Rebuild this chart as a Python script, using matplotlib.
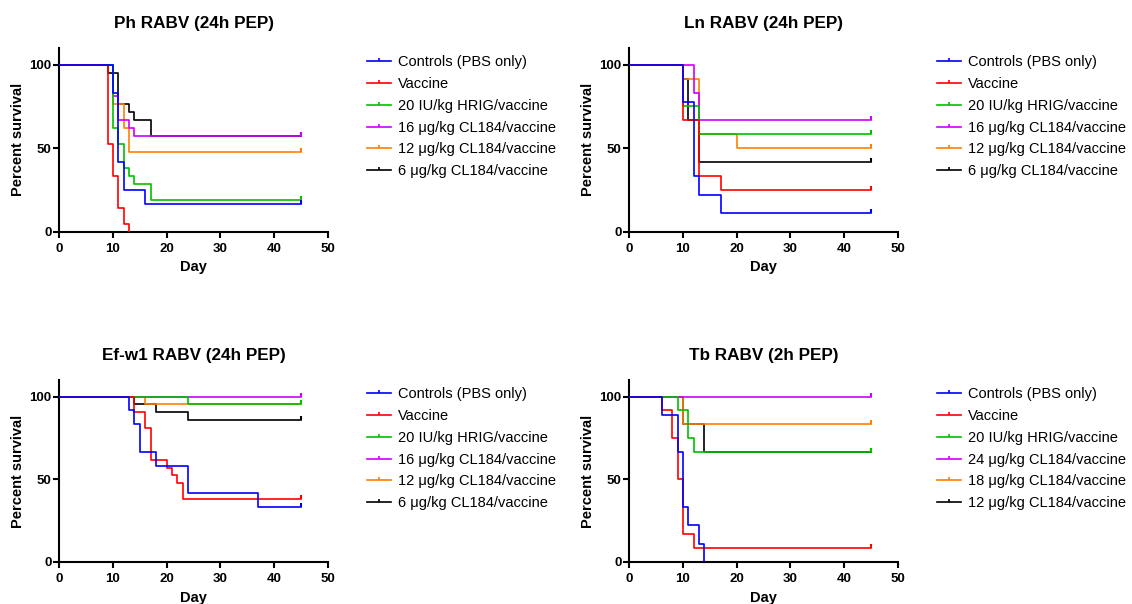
import numpy as np
import matplotlib.pyplot as plt
from matplotlib.lines import Line2D

plt.rcParams['font.family'] = ['Liberation Sans', 'DejaVu Sans']

# colores de cada grupo (mismo orden que la leyenda)
colors = ['#0000FF', '#FF0000', '#00C000', '#CC00FF', '#FF8000', '#000000']

# --- Ph RABV (24h PEP) ---
ph_labels = ['Controls (PBS only)', 'Vaccine', '20 IU/kg HRIG/vaccine',
             '16 \u03bcg/kg CL184/vaccine', '12 \u03bcg/kg CL184/vaccine',
             '6 \u03bcg/kg CL184/vaccine']
ph_days = [[0, 10, 11, 12, 16],
           [0, 9, 10, 11, 12, 13],
           [0, 10, 11, 12, 13, 14, 17],
           [0, 10, 11, 13, 14],
           [0, 10, 12, 13],
           [0, 9, 11, 13, 14, 17]]
ph_surv = [[100, 83.3, 41.7, 25.0, 16.7],
           [100, 52.4, 33.3, 14.3, 4.8, 0],
           [100, 61.9, 52.4, 38.1, 33.3, 28.6, 19.0],
           [100, 81.0, 66.7, 61.9, 57.1],
           [100, 76.2, 61.9, 47.6],
           [100, 95.2, 76.2, 71.4, 66.7, 57.1]]

# --- Ln RABV (24h PEP) ---
ln_labels = ph_labels
ln_days = [[0, 10, 12, 13, 17],
           [0, 10, 13, 17],
           [0, 10, 13],
           [0, 12, 13],
           [0, 10, 13, 20],
           [0, 10, 11, 13]]
ln_surv = [[100, 77.8, 33.3, 22.2, 11.1],
           [100, 66.7, 33.3, 25.0],
           [100, 75.0, 58.3],
           [100, 83.3, 66.7],
           [100, 91.7, 58.3, 50.0],
           [100, 91.7, 66.7, 41.7]]

# --- Ef-w1 RABV (24h PEP) ---
ef_labels = ph_labels
ef_days = [[0, 13, 14, 15, 18, 24, 37],
           [0, 14, 16, 17, 20, 21, 22, 23],
           [0, 24],
           [0],
           [0, 16],
           [0, 14, 18, 24]]
ef_surv = [[100, 91.7, 83.3, 66.7, 58.3, 41.7, 33.3],
           [100, 90.5, 81.0, 61.9, 57.1, 52.4, 47.6, 38.1],
           [100, 95.2],
           [100],
           [100, 95.2],
           [100, 95.2, 90.5, 85.7]]

# --- Tb RABV (2h PEP) ---
tb_labels = ['Controls (PBS only)', 'Vaccine', '20 IU/kg HRIG/vaccine',
             '24 \u03bcg/kg CL184/vaccine', '18 \u03bcg/kg CL184/vaccine',
             '12 \u03bcg/kg CL184/vaccine']
tb_days = [[0, 6, 9, 10, 11, 13, 14],
           [0, 6, 8, 9, 10, 12],
           [0, 9, 11, 12],
           [0],
           [0, 10],
           [0, 10, 14]]
tb_surv = [[100, 88.9, 66.7, 33.3, 22.2, 11.1, 0],
           [100, 91.7, 75.0, 50.0, 16.7, 8.3],
           [100, 91.7, 75.0, 66.7],
           [100],
           [100, 83.3],
           [100, 83.3, 66.7]]

end_day = 45

fig = plt.figure(figsize=(11.32, 6.04), dpi=100)

# posiciones en pixeles: (izq, der, abajo, arriba, y de la leyenda)
panels = [
    ('Ph RABV (24h PEP)', ph_labels, ph_days, ph_surv, (59.3, 327.7, 231.7, 48, 55)),
    ('Ln RABV (24h PEP)', ln_labels, ln_days, ln_surv, (629.3, 897.7, 231.7, 48, 55)),
    ('Ef-w1 RABV (24h PEP)', ef_labels, ef_days, ef_surv, (59.3, 327.7, 562, 380, 387)),
    ('Tb RABV (2h PEP)', tb_labels, tb_days, tb_surv, (629.3, 897.7, 562, 380, 387)),
]

W, H = 1132, 604
for title, labels, days, surv, (l, r, b, t, ly) in panels:
    ax = fig.add_axes([l / W, 1 - b / H, (r - l) / W, (b - t) / H])
    for i, (d, s) in enumerate(zip(days, surv)):
        d = list(d)
        s = list(s)
        z = 10 - i
        if s[-1] > 0:
            d.append(end_day)
            s.append(s[-1])
            ax.step(d, s, where='post', color=colors[i], lw=1.2, zorder=z)
            ax.plot([end_day], [s[-1]], marker=2, color=colors[i], ms=3, mew=1.5, zorder=z)
        else:
            ax.step(d, s, where='post', color=colors[i], lw=1.2, zorder=z)
    ax.set_xlim(0, 50)
    ax.set_ylim(0, 110)
    ax.set_xticks([0, 10, 20, 30, 40, 50])
    ax.set_yticks([0, 50, 100])
    for sp in ['top', 'right']:
        ax.spines[sp].set_visible(False)
    for sp in ['left', 'bottom']:
        ax.spines[sp].set_linewidth(1.5)
    ax.tick_params(width=1.5, length=4.5, labelsize=9.5)
    ax.tick_params(axis='x', pad=3.5)
    ax.tick_params(axis='y', pad=1)
    for lab in ax.get_xticklabels() + ax.get_yticklabels():
        lab.set_fontweight('bold')
    ax.set_xlabel('Day', fontsize=10.5, fontweight='bold', labelpad=4)
    ax.set_ylabel('Percent survival', fontsize=10.5, fontweight='bold', labelpad=3)
    ax.set_title(title, fontsize=12.3, fontweight='bold', pad=14.5)

    handles = [Line2D([0], [0], color=c, lw=1.2, marker=2, ms=2.5, mew=1.2) for c in colors]
    ax.legend(handles, labels, loc='upper left', bbox_to_anchor=((r + 39) / W, 1 - ly / H),
              bbox_transform=fig.transFigure, frameon=False, fontsize=10.5,
              handlelength=1.65, handletextpad=0.5, labelspacing=0.54,
              borderaxespad=0, borderpad=0, numpoints=1)

plt.savefig('out.png', dpi=100)
